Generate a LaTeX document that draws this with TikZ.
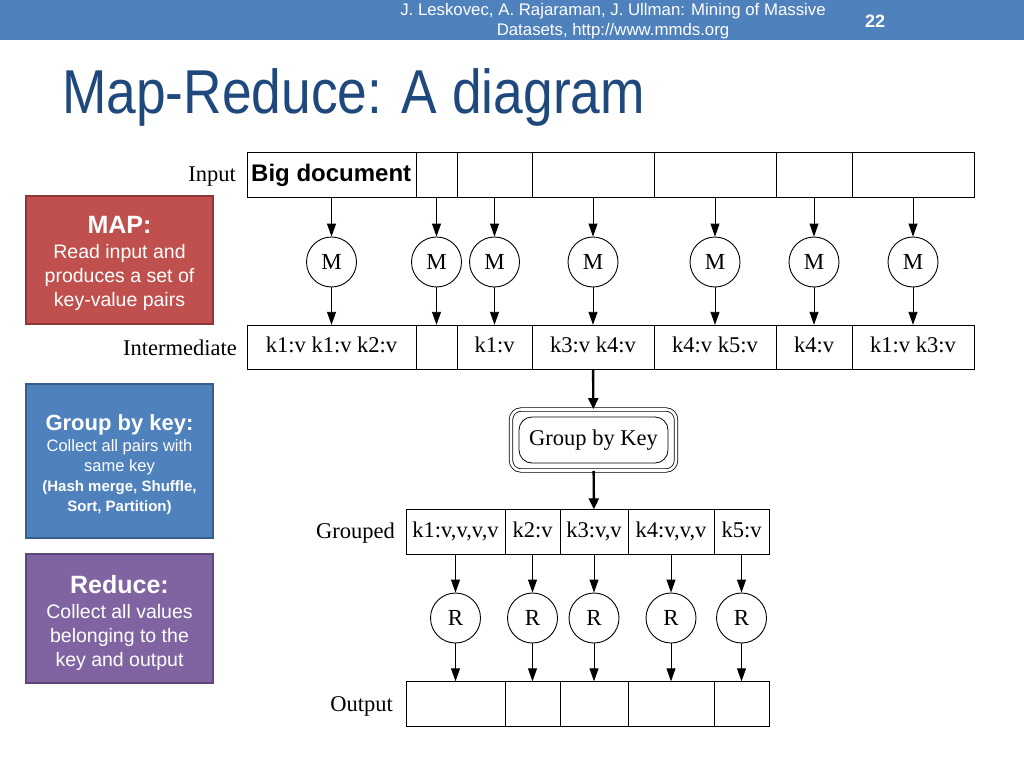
\documentclass[tikz,border=0pt]{standalone}
\usepackage{fontspec}
\setmainfont{Liberation Serif}
\setsansfont{Liberation Sans}
\usetikzlibrary{arrows.meta}
\definecolor{barblue}{HTML}{4F81BD}
\definecolor{titleblue}{HTML}{1F497D}
\definecolor{mapred}{HTML}{C0504D}
\definecolor{mapredline}{HTML}{8C3836}
\definecolor{grpblue}{HTML}{4F81BD}
\definecolor{grpblueline}{HTML}{385D8A}
\definecolor{redpurple}{HTML}{8064A2}
\definecolor{redpurpleline}{HTML}{5C4776}

\begin{document}
\begin{tikzpicture}[x=1pt,y=-1pt,
  cell/.style={rectangle,draw,line width=0.9pt,inner sep=0pt,minimum height=44.5pt,
    text height=15pt,text depth=5pt,font=\fontsize{22.5}{26}\selectfont},
  worker/.style={circle,draw,line width=0.9pt,inner sep=0pt,minimum size=50pt,
    font=\fontsize{23}{26}\selectfont},
  rowlabel/.style={anchor=east,inner sep=0pt,font=\fontsize{22.5}{26}\selectfont},
  arr/.style={line width=0.9pt,-{Triangle[length=13pt,width=9pt]}},
  bigarr/.style={line width=2.4pt,-{Triangle[length=11pt,width=10pt]}},
  stepbox/.style={rectangle,line width=1.6pt,minimum width=187pt,inner sep=0pt},
  steptext/.style={text=white,align=center,inner sep=0pt,font=\sffamily\fontsize{19.5}{24}\selectfont}]
\useasboundingbox (0,0) rectangle (1024,768);
\fill[white] (0,0) rectangle (1024,768);

% header and title
\fill[barblue] (0,0) rectangle (1024,40);
\node[text=white,align=center,font=\sffamily\fontsize{16.8}{20}\selectfont] (cite) at (613,21)
  {J. Leskovec, A. Rajaraman, J. Ullman: Mining of Massive\\Datasets, http://www.mmds.org};
\node[text=white,font=\sffamily\bfseries\fontsize{18}{20}\selectfont] (pageno) at (875,21) {22};
\node[anchor=base west,inner sep=0pt,text=titleblue,font=\sffamily\fontsize{62}{66}\selectfont] (title) at (62,113)
  {\scalebox{0.86}[1]{Map-Reduce: A diagram}};

% step boxes on the left
\node[stepbox,fill=mapred,draw=mapredline,minimum height=128pt] (mapbox) at (119.5,260) {};
\node[steptext] (maptext) at (119.5,263.5)
  {{\fontsize{25}{27}\selectfont\bfseries MAP:}\\[1pt]Read input and\\produces a set of\\key-value pairs};
\node[stepbox,fill=grpblue,draw=grpblueline,minimum height=154pt] (grpbox) at (119.5,461) {};
\node[steptext,font=\sffamily\fontsize{16.5}{20}\selectfont] (grptext) at (119.5,465)
  {{\fontsize{22}{24}\selectfont\bfseries Group by key:}\\[1pt]Collect all pairs with\\same key\\
   {\bfseries\fontsize{15}{19}\selectfont (Hash merge, Shuffle,}\\{\bfseries\fontsize{15}{19}\selectfont Sort, Partition)}};
\node[stepbox,fill=redpurple,draw=redpurpleline,minimum height=129pt] (redbox) at (119.5,618.5) {};
\node[steptext] (redtext) at (119.5,622.5)
  {{\fontsize{25}{27}\selectfont\bfseries Reduce:}\\[1pt]Collect all values\\belonging to the\\key and output};

% input
\node[rowlabel] (inlabel) at (236,177) {Input};
\node[cell,minimum width=169pt] (in1) at (331.5,175) {};
\node[cell,minimum width=41pt] (in2) at (436.5,175) {};
\node[cell,minimum width=75pt] (in3) at (494.5,175) {};
\node[cell,minimum width=122pt] (in4) at (593,175) {};
\node[cell,minimum width=122pt] (in5) at (715,175) {};
\node[cell,minimum width=76pt] (in6) at (814,175) {};
\node[cell,minimum width=122pt] (in7) at (913,175) {};
\node[anchor=west,inner sep=0pt,font=\sffamily\bfseries\fontsize{24}{26}\selectfont] (bigdoc) at (251,175) {Big document};

% map tasks
\node[worker] (m1) at (331.5,262) {M};
\node[worker] (m2) at (436.5,262) {M};
\node[worker] (m3) at (494.5,262) {M};
\node[worker] (m4) at (593,262) {M};
\node[worker] (m5) at (715,262) {M};
\node[worker] (m6) at (814,262) {M};
\node[worker] (m7) at (913,262) {M};

% intermediate
\node[rowlabel] (midlabel) at (237,348) {Intermediate};
\node[cell,minimum width=169pt] (mid1) at (331.5,347.5) {k1:v k1:v k2:v};
\node[cell,minimum width=41pt] (mid2) at (436.5,347.5) {};
\node[cell,minimum width=75pt] (mid3) at (494.5,347.5) {k1:v};
\node[cell,minimum width=122pt] (mid4) at (593,347.5) {k3:v k4:v};
\node[cell,minimum width=122pt] (mid5) at (715,347.5) {k4:v k5:v};
\node[cell,minimum width=76pt] (mid6) at (814,347.5) {k4:v};
\node[cell,minimum width=122pt] (mid7) at (913,347.5) {k1:v k3:v};

\draw[arr] (in1) -- (m1);
\draw[arr] (in2) -- (m2);
\draw[arr] (in3) -- (m3);
\draw[arr] (in4) -- (m4);
\draw[arr] (in5) -- (m5);
\draw[arr] (in6) -- (m6);
\draw[arr] (in7) -- (m7);
\draw[arr] (m1) -- (mid1);
\draw[arr] (m2) -- (mid2);
\draw[arr] (m3) -- (mid3);
\draw[arr] (m4) -- (mid4);
\draw[arr] (m5) -- (mid5);
\draw[arr] (m6) -- (mid6);
\draw[arr] (m7) -- (mid7);

% group by key
\node[rectangle,draw,line width=0.8pt,double,double distance=2.6pt,rounded corners=10pt,
  minimum width=165pt,minimum height=61pt] (gbk) at (593.5,440) {};
\node[rectangle,draw,line width=0.8pt,rounded corners=13pt,minimum width=149pt,minimum height=46pt,
  font=\fontsize{22.5}{26}\selectfont] (gbktext) at (593.5,440) {Group by Key};

% grouped
\node[rowlabel] (grplabel) at (395,533) {Grouped};
\node[cell,minimum width=99pt] (grp1) at (455.5,532) {k1:v,v,v,v};
\node[cell,minimum width=55pt] (grp2) at (532.5,532) {k2:v};
\node[cell,minimum width=68pt] (grp3) at (594,532) {k3:v,v};
\node[cell,minimum width=86pt] (grp4) at (671,532) {k4:v,v,v};
\node[cell,minimum width=55pt] (grp5) at (741.5,532) {k5:v};

\draw[bigarr] (mid4) -- (gbk);
\draw[bigarr] (gbk) -- (grp3);

% reduce tasks
\node[worker] (r1) at (455.5,618) {R};
\node[worker] (r2) at (532.5,618) {R};
\node[worker] (r3) at (594,618) {R};
\node[worker] (r4) at (671,618) {R};
\node[worker] (r5) at (741.5,618) {R};

% output
\node[rowlabel] (outlabel) at (393,706) {Output};
\node[cell,minimum width=99pt] (out1) at (455.5,704) {};
\node[cell,minimum width=55pt] (out2) at (532.5,704) {};
\node[cell,minimum width=68pt] (out3) at (594,704) {};
\node[cell,minimum width=86pt] (out4) at (671,704) {};
\node[cell,minimum width=55pt] (out5) at (741.5,704) {};

\draw[arr] (grp1) -- (r1);
\draw[arr] (grp2) -- (r2);
\draw[arr] (grp3) -- (r3);
\draw[arr] (grp4) -- (r4);
\draw[arr] (grp5) -- (r5);
\draw[arr] (r1) -- (out1);
\draw[arr] (r2) -- (out2);
\draw[arr] (r3) -- (out3);
\draw[arr] (r4) -- (out4);
\draw[arr] (r5) -- (out5);
\end{tikzpicture}
\end{document}
